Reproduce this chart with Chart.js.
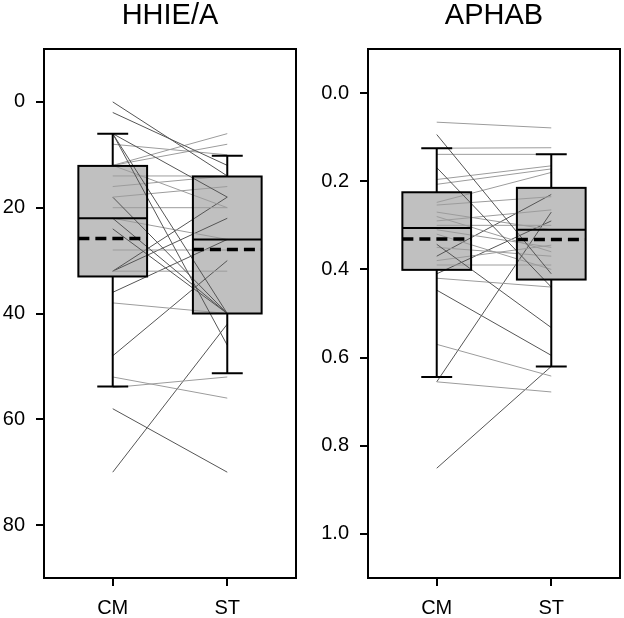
<!DOCTYPE html>
<html><head><meta charset="utf-8">
<script src="https://cdn.jsdelivr.net/npm/chart.js@4.4.1/dist/chart.umd.min.js"></script>
<style>
html,body{margin:0;padding:0;background:#fff;}
#wrap{position:relative;width:624px;height:618px;overflow:hidden;}
.p{position:absolute;top:0;width:312px;height:618px;}
canvas{display:block;}
</style></head><body>
<div id="wrap">
<div class="p" style="left:0"><canvas id="c1" width="312" height="618"></canvas></div>
<div class="p" style="left:312px"><canvas id="c2" width="312" height="618"></canvas></div>
</div>
<script>
// ---------- data ----------
const categories = ['CM', 'ST'];

// HHIE/A paired scores per subject
const hhieCM = [0, 2, 6, 6, 6, 8, 12, 12, 12, 14, 16, 18, 18, 20, 22, 22, 24, 28, 32, 32, 32, 36, 38, 48, 52, 54, 58, 70];
const hhieST = [14, 12, 40, 46, 18, 10, 6, 8, 20, 14, 14, 16, 40, 20, 26, 40, 40, 28, 32, 18, 22, 26, 40, 30, 56, 52, 70, 42];
// HHIE/A box summaries [CM, ST]
const hhieWhiskerLow = [6, 10.2];
const hhieQ1 = [12.1, 14.1];
const hhieMedian = [22, 26];
const hhieQ3 = [33, 40];
const hhieWhiskerHigh = [53.8, 51.3];
const hhieMean = [25.8, 27.9];
const hhieTicks = [0, 20, 40, 60, 80];
const hhieTickLabels = ['0', '20', '40', '60', '80'];
const hhieRange = [-10, 90];
const hhieBigChange = 10;

// APHAB paired scores per subject
const aphabCM = [0.066, 0.094, 0.125, 0.139, 0.169, 0.196, 0.207, 0.248, 0.254, 0.27, 0.28, 0.29, 0.30, 0.31, 0.32, 0.343, 0.35, 0.37, 0.38, 0.39, 0.41, 0.42, 0.447, 0.57, 0.655, 0.655, 0.851];
const aphabST = [0.079, 0.41, 0.124, 0.139, 0.44, 0.165, 0.172, 0.18, 0.235, 0.31, 0.36, 0.265, 0.30, 0.35, 0.40, 0.532, 0.37, 0.23, 0.345, 0.39, 0.29, 0.44, 0.595, 0.642, 0.678, 0.27, 0.62];
// APHAB box summaries [CM, ST]
const aphabWhiskerLow = [0.125, 0.139];
const aphabQ1 = [0.225, 0.215];
const aphabMedian = [0.306, 0.31];
const aphabQ3 = [0.401, 0.423];
const aphabWhiskerHigh = [0.644, 0.62];
const aphabMean = [0.331, 0.332];
const aphabTicks = [0, 0.2, 0.4, 0.6, 0.8, 1.0];
const aphabTickLabels = ['0.0', '0.2', '0.4', '0.6', '0.8', '1.0'];
const aphabRange = [-0.1, 1.1];
const aphabBigChange = 0.1;

// ---------- drawing ----------
const FONT = "'Liberation Sans', Arial, sans-serif";
const xPos = categories.map((_, i) => i + 1);
const BOX_HALF = 0.3;
const CAP_HALF = 0.135;

function boxPlugin(b) {
  return {
    id: 'boxes',
    beforeDatasetsDraw(chart) {
      const { ctx, scales: { x, y } } = chart;
      ctx.save();
      ctx.fillStyle = '#c0c0c0';
      xPos.forEach((cx, i) => {
        const l = x.getPixelForValue(cx - BOX_HALF), r = x.getPixelForValue(cx + BOX_HALF);
        const t = y.getPixelForValue(b.q1[i]), btm = y.getPixelForValue(b.q3[i]);
        ctx.fillRect(l, t, r - l, btm - t);
      });
      ctx.restore();
    },
    afterDatasetsDraw(chart) {
      const { ctx, scales: { x, y }, chartArea: a } = chart;
      ctx.save();
      ctx.strokeStyle = '#000';
      xPos.forEach((cx, i) => {
        const px = x.getPixelForValue(cx);
        const l = x.getPixelForValue(cx - BOX_HALF), r = x.getPixelForValue(cx + BOX_HALF);
        const cl = x.getPixelForValue(cx - CAP_HALF), cr = x.getPixelForValue(cx + CAP_HALF);
        const yq1 = y.getPixelForValue(b.q1[i]), yq3 = y.getPixelForValue(b.q3[i]);
        const ylo = y.getPixelForValue(b.lo[i]), yhi = y.getPixelForValue(b.hi[i]);
        const ymed = y.getPixelForValue(b.med[i]), ymean = y.getPixelForValue(b.mean[i]);
        ctx.lineWidth = 2;
        ctx.setLineDash([]);
        ctx.beginPath();
        ctx.moveTo(px, yq1); ctx.lineTo(px, ylo);
        ctx.moveTo(cl, ylo); ctx.lineTo(cr, ylo);
        ctx.moveTo(px, yq3); ctx.lineTo(px, yhi);
        ctx.moveTo(cl, yhi); ctx.lineTo(cr, yhi);
        ctx.stroke();
        ctx.strokeRect(l, yq1, r - l, yq3 - yq1);
        ctx.beginPath();
        ctx.moveTo(l, ymed); ctx.lineTo(r, ymed);
        ctx.stroke();
        ctx.lineWidth = 3.5;
        ctx.setLineDash([11, 6]);
        ctx.beginPath();
        ctx.moveTo(l, ymean); ctx.lineTo(r, ymean);
        ctx.stroke();
      });
      ctx.setLineDash([]);
      ctx.lineWidth = 2;
      ctx.strokeRect(a.left, a.top, a.right - a.left, a.bottom - a.top);
      ctx.restore();
    }
  };
}

function makeChart(id, title, cm, st, box, range, ticks, tickLabels, bigChange, yWidth, padRight) {
  const datasets = cm.map((v, i) => ({
    data: [{ x: xPos[0], y: v }, { x: xPos[1], y: st[i] }],
    showLine: true,
    pointRadius: 0,
    borderWidth: 1,
    borderColor: Math.abs(st[i] - v) >= bigChange ? '#555555' : '#9c9c9c'
  }));
  const gridOpts = { drawOnChartArea: false, drawTicks: true, tickLength: 8, color: '#000', lineWidth: 2 };
  return new Chart(document.getElementById(id), {
    type: 'scatter',
    data: { datasets },
    options: {
      responsive: false,
      animation: false,
      layout: { padding: { left: 0, right: padRight, top: 0, bottom: 0 } },
      plugins: {
        legend: { display: false },
        tooltip: { enabled: false },
        title: {
          display: true, text: title, fullSize: false, color: '#000',
          font: { family: FONT, size: 29, weight: 'normal', lineHeight: 1 },
          padding: { top: 1, bottom: 19 }
        }
      },
      scales: {
        x: {
          type: 'linear', min: 0.4, max: 2.6,
          afterBuildTicks: s => { s.ticks = xPos.map(v => ({ value: v })); },
          afterFit: s => { s.height = 40; },
          ticks: {
            callback: (v, i) => categories[i], color: '#000',
            font: { family: FONT, size: 20 }, padding: 10, maxRotation: 0, autoSkip: false
          },
          grid: gridOpts,
          border: { display: false }
        },
        y: {
          type: 'linear', reverse: true, min: range[0], max: range[1],
          afterBuildTicks: s => { s.ticks = ticks.map(v => ({ value: v })); },
          afterFit: s => { s.width = yWidth; },
          ticks: {
            callback: (v, i) => tickLabels[i], color: '#000',
            font: { family: FONT, size: 20 }, padding: 11, autoSkip: false
          },
          grid: gridOpts,
          border: { display: false }
        }
      }
    },
    plugins: [boxPlugin(box)]
  });
}

makeChart('c1', 'HHIE/A', hhieCM, hhieST,
  { lo: hhieWhiskerLow, q1: hhieQ1, med: hhieMedian, q3: hhieQ3, hi: hhieWhiskerHigh, mean: hhieMean },
  hhieRange, hhieTicks, hhieTickLabels, hhieBigChange, 44, 16);
makeChart('c2', 'APHAB', aphabCM, aphabST,
  { lo: aphabWhiskerLow, q1: aphabQ1, med: aphabMedian, q3: aphabQ3, hi: aphabWhiskerHigh, mean: aphabMean },
  aphabRange, aphabTicks, aphabTickLabels, aphabBigChange, 56, 4);
</script>
</body></html>
